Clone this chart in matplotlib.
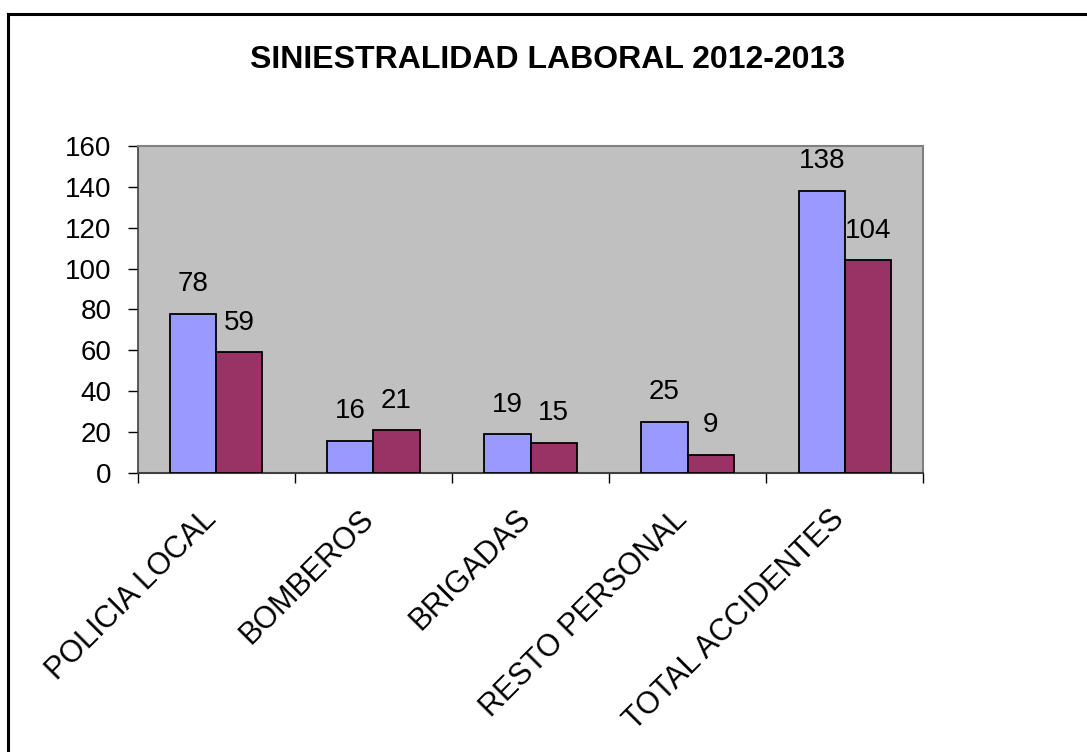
import numpy as np
import matplotlib
matplotlib.use("Agg")
from matplotlib import pyplot as plt
from matplotlib.lines import Line2D
from matplotlib.transforms import ScaledTranslation

categories = ["POLICIA LOCAL", "BOMBEROS", "BRIGADAS", "RESTO PERSONAL", "TOTAL ACCIDENTES"]
values_2012 = [78, 16, 19, 25, 138]
values_2013 = [59, 21, 15, 9, 104]
y_ticks = [0, 20, 40, 60, 80, 100, 120, 140, 160]

plt.rcParams['font.family'] = ['Liberation Sans', 'DejaVu Sans']

fig = plt.figure(figsize=(10.87, 7.52), dpi=100)
fig.patch.set_facecolor('white')

# outer frame (only top and left edges are visible in the original)
fig.add_artist(Line2D([7.5 / 1087, 1.0], [1 - 14 / 752, 1 - 14 / 752],
                      transform=fig.transFigure, color='black', lw=2.2))
fig.add_artist(Line2D([7.5 / 1087, 7.5 / 1087], [0.0, 1 - 14 / 752],
                      transform=fig.transFigure, color='black', lw=2.2))

ax = fig.add_axes([0.1267, 0.3706, 0.7227, 0.4357])
ax.set_facecolor('#C0C0C0')

x = np.arange(len(categories))
width = 0.294
b1 = ax.bar(x - width / 2, values_2012, width, color='#9999FF',
            edgecolor='black', linewidth=1.3, zorder=3)
b2 = ax.bar(x + width / 2, values_2013, width, color='#993366',
            edgecolor='black', linewidth=1.3, zorder=3)

for bars in (b1, b2):
    for rect in bars:
        ax.annotate(f"{int(rect.get_height())}",
                    (rect.get_x() + rect.get_width() / 2, rect.get_height()),
                    xytext=(0, 12), textcoords='offset points',
                    ha='center', va='bottom', fontsize=20, zorder=4)

ax.set_xlim(-0.5, len(categories) - 0.5)
ax.set_ylim(0, 160)
ax.set_yticks(y_ticks)
ax.set_yticklabels([str(v) for v in y_ticks], fontsize=20)
ax.tick_params(axis='y', direction='out', length=7, width=1, pad=12)

# category boundary ticks
ax.set_xticks(np.arange(len(categories) + 1) - 0.5)
ax.set_xticklabels([])
ax.tick_params(axis='x', direction='out', length=7, width=1)
ax.set_xticks(x, minor=True)
ax.set_xticklabels(categories, minor=True, rotation=45, ha='right',
                   rotation_mode='anchor', fontsize=22)
ax.tick_params(axis='x', which='minor', length=0, pad=22)
shift = ScaledTranslation(-15 / 100, 0, fig.dpi_scale_trans)
for lbl in ax.get_xticklabels(minor=True):
    lbl.set_transform(lbl.get_transform() + shift)

for side in ('top', 'right'):
    ax.spines[side].set_color('#808080')
    ax.spines[side].set_linewidth(1.5)
ax.spines['left'].set_color('#404040')
ax.spines['bottom'].set_color('#404040')
ax.spines['left'].set_linewidth(1.2)
ax.spines['bottom'].set_linewidth(1.5)

fig.text(0.5037, 0.92, "SINIESTRALIDAD LABORAL 2012-2013", ha='center',
         va='center', fontsize=23, fontweight='bold')

fig.savefig("out.png", dpi=100)
